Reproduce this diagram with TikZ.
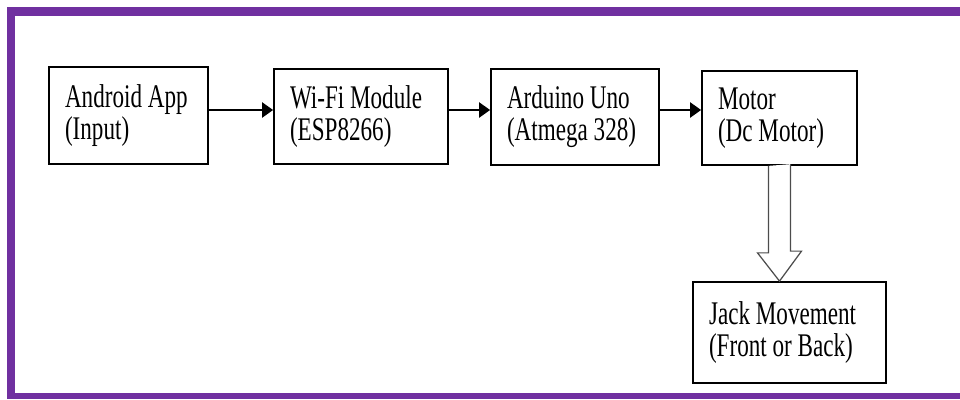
\documentclass[tikz,border=0pt]{standalone}
\usepackage{fontspec}
\setmainfont[FakeStretch=0.7]{Liberation Serif}
\usetikzlibrary{arrows.meta}
\definecolor{framepurple}{RGB}{112,48,160}
\tikzset{
  block/.style={draw, line width=1pt, align=flush left, inner ysep=0pt, inner xsep=0.32cm, font=\fontsize{18.8}{18.2}\selectfont},
  flow/.style={line width=1.5pt, -{Triangle[length=6.3pt,width=8.5pt]}},
  hollow/.style={draw=black!70, line width=0.7pt, fill=white}
}

\begin{document}
\begin{tikzpicture}[x=0.02cm, y=-0.02cm]
\useasboundingbox (0,0) rectangle (960,399);
% frame
\fill [framepurple] (7,7) rectangle (15,399);
\fill [framepurple] (7,7) rectangle (960,16);
\fill [framepurple] (7,393) rectangle (960,399);
% blocks
\node [block, text width=2.54cm, minimum height=1.94cm] (android) at (128.5,115.5) {Android~App\\(Input)};
\node [block, text width=2.84cm, minimum height=1.90cm] (wifi) at (361,116.5) {Wi-Fi~Module\\(ESP8266)};
\node [block, text width=2.72cm, minimum height=1.92cm] (arduino) at (575,117) {Arduino~Uno\\(Atmega~328)};
\node [block, text width=2.46cm, minimum height=1.88cm] (motor) at (779.5,118) {Motor\\(Dc~Motor)};
\node [block, text width=3.22cm, minimum height=2.02cm] (jack) at (789.5,332.5) {Jack~Movement\\(Front~or~Back)};
% arrows
\draw [flow] (android.east |- 0,110) -- (wifi.west |- 0,110);
\draw [flow] (wifi.east |- 0,110) -- (arduino.west |- 0,110);
\draw [flow] (arduino.east |- 0,110) -- (motor.west |- 0,110);
\draw [hollow] (motor.south) ++(-11,0) -- ++(0,87) -- ++(-11,0) -- (motor.south |- jack.north) -- ++(22,-30) -- ++(-11,0) -- ++(0,-87);
\end{tikzpicture}
\end{document}
